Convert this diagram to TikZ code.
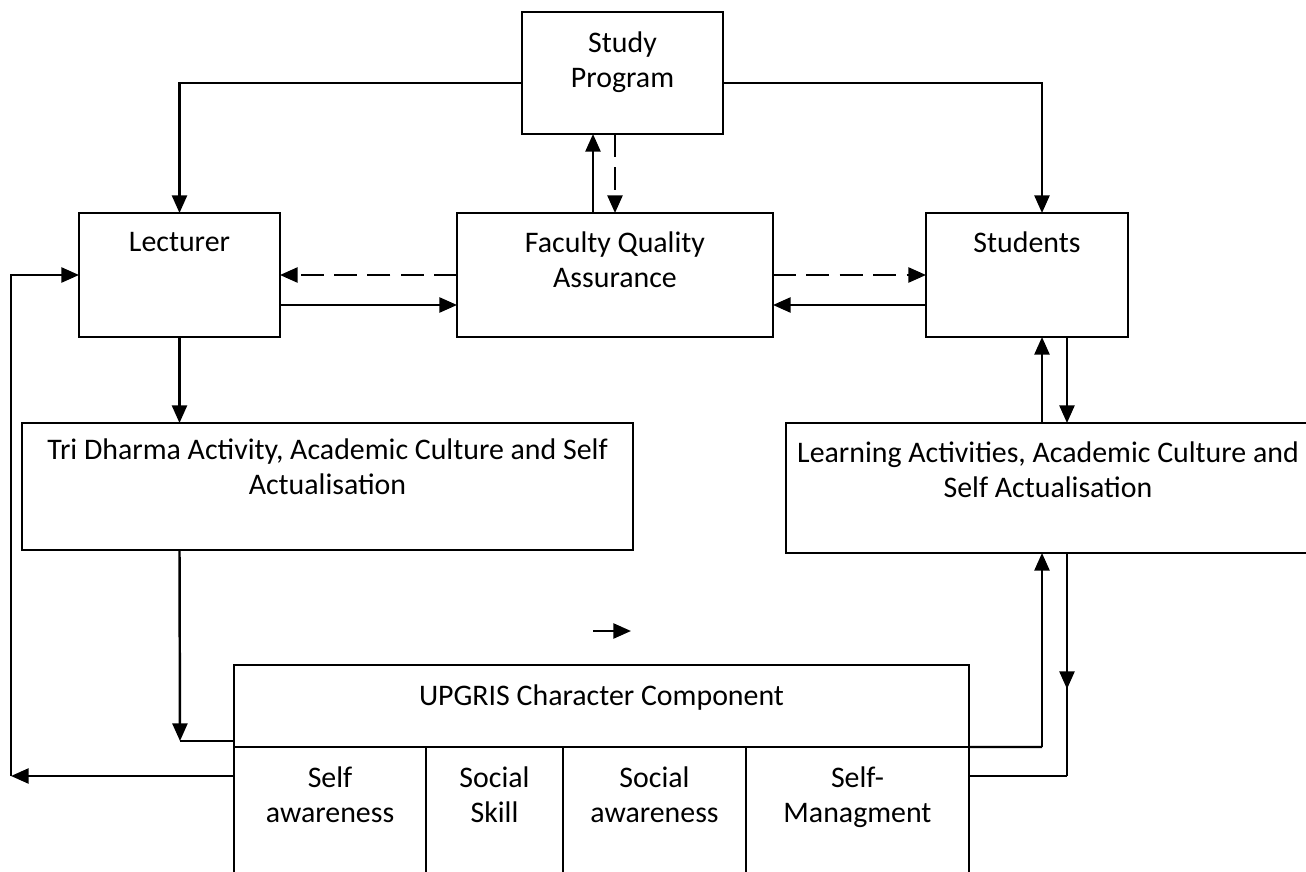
\documentclass[tikz,border=0pt]{standalone}
\usepackage{fontspec}
\setmainfont{Carlito}
\usepackage{tikz}
\usetikzlibrary{arrows.meta}
\usetikzlibrary{positioning}
\usetikzlibrary{decorations.markings}
\tikzset{box/.style = {draw, rectangle, line width = 1.1pt, outer sep = 0, inner sep = 0}}
\tikzset{txt/.style = {inner sep = 0, align = center, font = \fontsize{17}{19.9}\selectfont}}
\tikzset{wire/.style = {line width = 1.4pt}}
\tikzset{arr/.style = {wire, -{Triangle[length = 10pt, width = 8.5pt]}}}
\tikzset{dashline/.style = {dash pattern = on 13pt off 6pt}}
\tikzset{midarr/.style = {wire, postaction = {decorate},
  decoration = {markings, mark = at position 0.61 with {\arrow{Triangle[length = 10pt, width = 8.5pt]}}}}}

\begin{document}
\begin{tikzpicture}[x = 0.02cm, y = -0.02cm]
  \useasboundingbox (0, 0) rectangle (1306, 872);

  % boxes
  \node [box, minimum width = 4.02cm, minimum height = 2.44cm] (prog) at (622.5, 73) {};
  \node [box, minimum width = 4.02cm, minimum height = 2.48cm] (lect) at (179.5, 275) {};
  \node [box, minimum width = 6.32cm, minimum height = 2.48cm] (fqa) at (615, 275) {};
  \node [box, minimum width = 4.04cm, minimum height = 2.48cm] (stud) at (1027, 275) {};
  \node [box, minimum width = 12.22cm, minimum height = 2.54cm] (tri) at (327.5, 486.5) {};
  \node [box, minimum width = 10.48cm, minimum height = 2.6cm] (learn) at (1048, 488) {};
  \node [box, minimum width = 14.7cm, minimum height = 1.64cm] (upg) at (601.5, 706) {};
  \node [box, minimum width = 3.84cm, minimum height = 2.66cm, anchor = north west] (c1) at (upg.south west) {};
  \node [box, minimum width = 2.74cm, minimum height = 2.66cm, right = 0pt of c1] (c2) {};
  \node [box, minimum width = 3.66cm, minimum height = 2.66cm, right = 0pt of c2] (c3) {};
  \node [box, minimum width = 4.46cm, minimum height = 2.66cm, right = 0pt of c3] (c4) {};

  % texts
  \node [txt, below = 0.39cm of prog.north] (progtxt) {Study\\Program};
  \node [txt, below = 0.37cm of lect.north] (lecttxt) {Lecturer};
  \node [txt, below = 0.37cm of fqa.north] (fqatxt) {Faculty Quality\\Assurance};
  \node [txt, below = 0.37cm of stud.north] (studtxt) {Students};
  \node [txt, below = 0.31cm of tri.north] (tritxt) {Tri Dharma Activity, Academic Culture and Self\\Actualisation};
  \node [txt, below = 0.37cm of learn.north] (learntxt) {Learning Activities, Academic Culture and\\Self Actualisation};
  \node [txt, below = 0.38cm of upg.north] (upgtxt) {UPGRIS Character Component};
  \foreach \col/\words in {c1/{Self\\awareness}, c2/{Social\\Skill}, c3/{Social\\awareness}, c4/{Self-\\Managment}} {
    \node [txt, below = 0.39cm of \col.north] (t\col) {\words};
  }

  % top connectors
  \draw [arr] ([yshift = -0.2cm]prog.west) -| (lect.north);
  \draw [arr] ([yshift = -0.2cm]prog.east) -| ([xshift = 0.3cm]stud.north);
  \draw [arr] ([xshift = -0.44cm]fqa.north) -- ([xshift = -0.44cm]fqa.north |- prog.south);
  \draw [arr, dashline] (prog.south -| fqa.north) -- (fqa.north);
  \draw [arr, dashline] (fqa.west) -- (fqa.west -| lect.east);
  \draw [arr] ([yshift = -0.6cm]lect.east) -- ([yshift = -0.6cm]lect.east -| fqa.west);
  \draw [arr, dashline] (fqa.east) -- (fqa.east -| stud.west);
  \draw [arr] ([yshift = -0.6cm]stud.west) -- ([yshift = -0.6cm]stud.west -| fqa.east);
  \draw [arr] (lect.south) -- (lect.south |- tri.north);
  \draw [arr] ([xshift = 0.3cm]stud.south |- learn.north) -- ([xshift = 0.3cm]stud.south);
  \draw [arr] ([xshift = 0.8cm]stud.south) -- ([xshift = 0.8cm]stud.south |- learn.north);

  % lower left
  \coordinate (trib) at (180, 741);
  \draw [arr] (lect.south |- tri.south) -- (trib);
  \draw [wire] (trib) -- (trib -| upg.west);
  \coordinate (back) at (11, 776);
  \draw [arr] (back -| c1.west) -- (back);
  \draw [arr] (back) |- (lect.west);

  % lower right
  \coordinate (upr) at (1042, 747);
  \draw [wire] (upg.south east) -- (upr);
  \draw [arr] (upr) -- (upr |- learn.south);
  \coordinate (dnr) at (1067, 776);
  \draw [midarr] (dnr |- learn.south) -- (dnr);
  \draw [wire] (dnr) -- (dnr -| c4.east);

  % lone arrow
  \coordinate (sa) at (593, 631);
  \coordinate (sb) at (631, 631);
  \draw [arr] (sa) -- (sb);
\end{tikzpicture}
\end{document}
